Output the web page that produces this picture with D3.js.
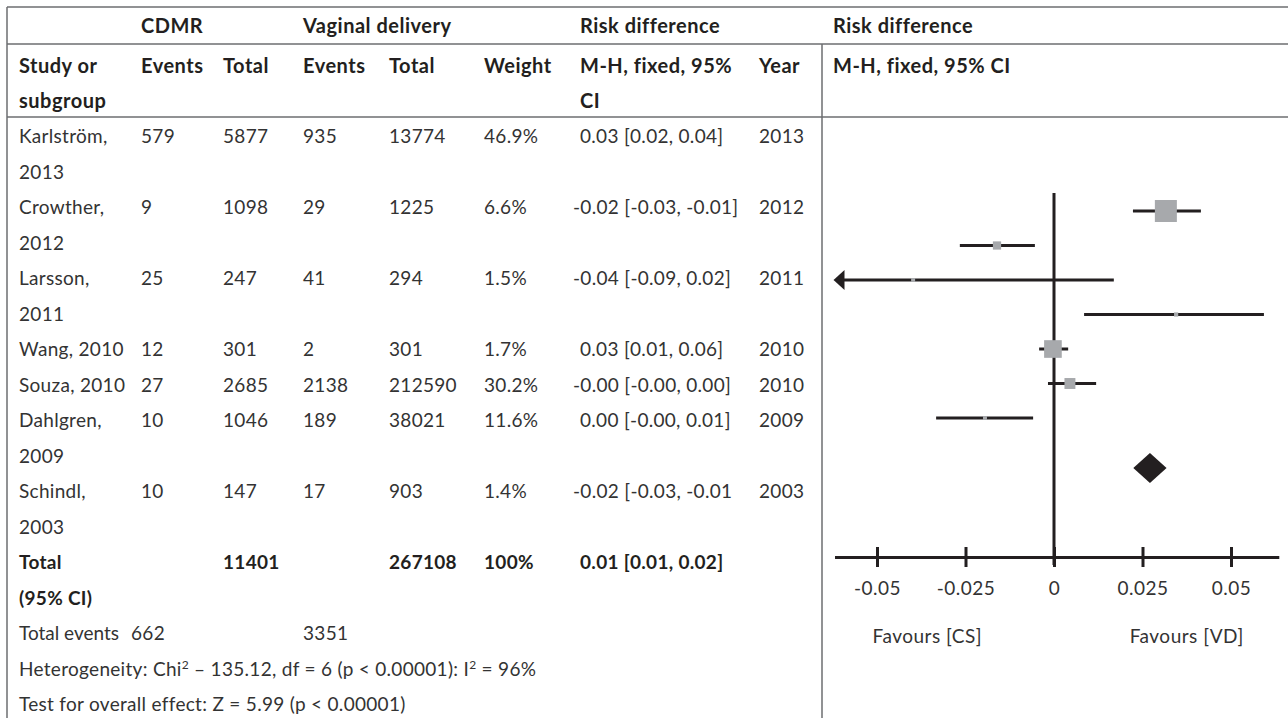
<!DOCTYPE html>
<html><head><meta charset="utf-8">
<script src="https://cdn.jsdelivr.net/npm/d3@7"></script>
<style>
body{margin:0;background:#fff}
svg{display:block}
text{font-family:Lato,"Open Sans",sans-serif;}
</style>
</head><body><svg id="c" width="1288" height="718"></svg>
<script>
// ---------- data ----------
const studyLines = [["Karlström,","2013"],["Crowther,","2012"],["Larsson,","2011"],["Wang, 2010"],["Souza, 2010"],["Dahlgren,","2009"],["Schindl,","2003"]];
const cdmrEvents = [579, 9, 25, 12, 27, 10, 10];
const cdmrTotal  = [5877, 1098, 247, 301, 2685, 1046, 147];
const vdEvents   = [935, 29, 41, 2, 2138, 189, 17];
const vdTotal    = [13774, 1225, 294, 301, 212590, 38021, 903];
const weights    = [46.9, 6.6, 1.5, 1.7, 30.2, 11.6, 1.4];
const weightLabels = ["46.9%","6.6%","1.5%","1.7%","30.2%","11.6%","1.4%"];
const rdLabels   = ["0.03 [0.02, 0.04]","-0.02 [-0.03, -0.01]","-0.04 [-0.09, 0.02]","0.03 [0.01, 0.06]","-0.00 [-0.00, 0.00]","0.00 [-0.00, 0.01]","-0.02 [-0.03, -0.01"];
const years      = [2013, 2012, 2011, 2010, 2010, 2009, 2003];
// values as drawn in the forest plot
const plotEst = [0.0316, -0.0161, -0.0398, 0.0345, -0.0003, 0.0045, -0.0195];
const plotLo  = [0.0223, -0.0266, -0.0900, 0.0085, -0.0042, -0.0017, -0.0333];
const plotHi  = [0.0415, -0.0054, 0.0169, 0.0593, 0.0040, 0.0119, -0.0059];
const pooledEst = 0.0271, pooledLo = 0.0224, pooledHi = 0.0318;
const totalLines = ["Total","(95% CI)"];
const totalCdmr = 11401, totalVd = 267108, totalWeight = "100%", totalRd = "0.01 [0.01, 0.02]";
const totalEventsCdmr = 662, totalEventsVd = 3351;
const tickValues = [-0.05, -0.025, 0, 0.025, 0.05];
const tickLabels = ["-0.05","-0.025","0","0.025","0.05"];
const favourLabels = ["Favours [CS]","Favours [VD]"];

// ---------- layout ----------
const svg = d3.select("#c");
const INK = "#231f20", TXT = "#333333", GRID = "#6d6e71", BOX = "#a7a9ac";
const FS = 19, HFS = 20;
const colX = [19, 141, 223, 303, 389, 484, 580, 759];
const rightX = 833;
const lineY = k => 143 + k * 35.5;

// grid
const g = svg.append("g").attr("stroke", GRID).attr("stroke-width", 1.5);
[[7,7,1288,7],[7,44,1288,44],[7,117,1288,117],[7,7,7,718],[822,44,822,718]].forEach(l=>{
  g.append("line").attr("x1",l[0]).attr("y1",l[1]).attr("x2",l[2]).attr("y2",l[3]);
});

function txt(x, y, s, bold, anchor){
  return svg.append("text").attr("x",x).attr("y",y).text(s)
    .attr("font-size",FS).attr("font-weight",bold?700:400)
    .attr("letter-spacing",0.3)
    .attr("fill",bold?INK:TXT).attr("text-anchor",anchor||"start");
}
function head(x, y, s){
  return txt(x,y,s,true).attr("font-size",HFS).attr("letter-spacing",0.5);
}

// headers
head(colX[1],33,"CDMR");
head(colX[3],33,"Vaginal delivery");
head(colX[6],33,"Risk difference");
head(rightX,33,"Risk difference");
const h2 = ["Study or","Events","Total","Events","Total","Weight","M-H, fixed, 95%","Year"];
h2.forEach((s,i)=>head(colX[i],73,s));
head(colX[0],108,"subgroup");
head(colX[6],108,"CI");
head(rightX,73,"M-H, fixed, 95% CI");

// study rows
let k = 0;
studyLines.forEach((lines,i)=>{
  lines.forEach((s,j)=>txt(colX[0], lineY(k+j), s));
  const y = lineY(k);
  txt(colX[1],y,cdmrEvents[i]);
  txt(colX[2],y,cdmrTotal[i]);
  txt(colX[3],y,vdEvents[i]);
  txt(colX[4],y,vdTotal[i]);
  txt(colX[5],y,weightLabels[i]);
  const neg = rdLabels[i].startsWith("-");
  txt(colX[6] - (neg?7:0),y,rdLabels[i]);
  txt(colX[7],y,years[i]);
  k += lines.length;
});
// total
totalLines.forEach((s,j)=>txt(colX[0], lineY(k+j), s, true));
txt(colX[2],lineY(k),totalCdmr,true);
txt(colX[4],lineY(k),totalVd,true);
txt(colX[5],lineY(k),totalWeight,true);
txt(colX[6],lineY(k),totalRd,true);
k += totalLines.length;
txt(colX[0],lineY(k),"Total events").attr("letter-spacing",0);
txt(131,lineY(k),totalEventsCdmr);
txt(colX[3],lineY(k),totalEventsVd);
k++;
const het = txt(colX[0],lineY(k),"");
het.append("tspan").text("Heterogeneity: Chi");
het.append("tspan").text("2").attr("font-size",12).attr("dy",-7);
het.append("tspan").text(" – 135.12, df = 6 (p < 0.00001): I").attr("dy",7);
het.append("tspan").text("2").attr("font-size",12).attr("dy",-7);
het.append("tspan").text(" = 96%").attr("dy",7);
k++;
txt(colX[0],lineY(k),"Test for overall effect: Z = 5.99 (p < 0.00001)");

// ---------- forest plot ----------
const x = d3.scaleLinear().domain([-0.05,0.05]).range([877,1231]);
const axisMin = -0.062, axisMax = 0.0635;
const y = d3.scaleLinear().domain([0,6]).range([211,418]);
const size = d3.scaleSqrt().domain([0,46.9]).range([0,22]);
const axisY = 557;
const fp = svg.append("g");

// zero line
fp.append("line").attr("x1",x(0)).attr("x2",x(0)).attr("y1",193).attr("y2",axisY+8)
  .attr("stroke",INK).attr("stroke-width",3);

// axis
const xa = x.copy().domain([axisMin,axisMax]).range([x(axisMin),x(axisMax)]);
const ax = fp.append("g").attr("transform",`translate(0,${axisY})`)
  .call(d3.axisBottom(xa).tickValues(tickValues).tickSize(10).tickSizeOuter(0)
        .tickFormat((d,i)=>tickLabels[i]));
ax.select(".domain").attr("stroke",INK).attr("stroke-width",3);
ax.selectAll(".tick line").attr("y1",-10).attr("y2",10).attr("stroke",INK).attr("stroke-width",3);
ax.selectAll(".tick text").attr("y",38).attr("dy",0).attr("font-size",FS).attr("letter-spacing",0.5)
  .attr("font-family","Lato, 'Open Sans', sans-serif").attr("fill",TXT);

// CI lines
plotEst.forEach((e,i)=>{
  const lo = Math.max(plotLo[i], axisMin), hi = Math.min(plotHi[i], axisMax);
  const yy = y(i);
  let x1 = x(lo);
  if (plotLo[i] < axisMin){
    const tip = x(axisMin) - 1;
    fp.append("path").attr("d",`M${tip},${yy}L${tip+11},${yy-10}L${tip+11},${yy+10}Z`).attr("fill",INK);
    x1 = tip + 10;
  }
  fp.append("line").attr("x1",x1).attr("x2",x(hi)).attr("y1",yy).attr("y2",yy)
    .attr("stroke",INK).attr("stroke-width",3);
  const s = Math.max(size(weights[i]),4);
  fp.append("rect").attr("x",x(e)-s/2).attr("y",yy-s/2).attr("width",s).attr("height",s).attr("fill",BOX);
});
// diamond
const dy0 = y(7.45);
fp.append("path").attr("d",`M${x(pooledLo)},${dy0}L${x(pooledEst)},${dy0-15}L${x(pooledHi)},${dy0}L${x(pooledEst)},${dy0+15}Z`).attr("fill",INK);

// favours labels
txt((x(-0.05)+x(-0.025))/2 + 6, 643, favourLabels[0], false, "middle").attr("letter-spacing",0.5);
txt((x(0.025)+x(0.05))/2, 643, favourLabels[1], false, "middle").attr("letter-spacing",0.5);
</script>
</body></html>
